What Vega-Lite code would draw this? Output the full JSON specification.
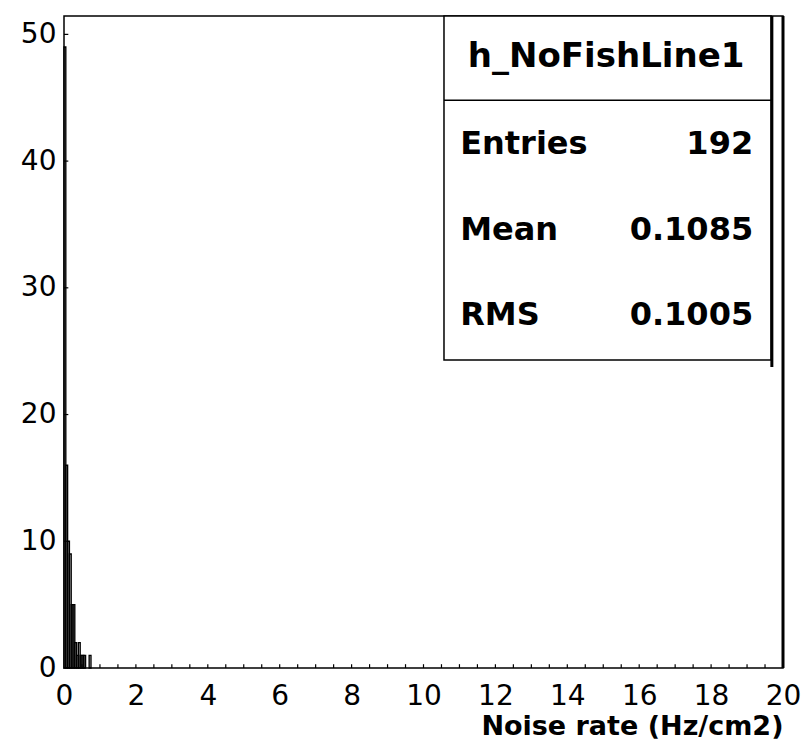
{
  "$schema": "https://vega.github.io/schema/vega-lite/v6.json",
  "width": 719,
  "height": 652,
  "autosize": {"type": "none"},
  "padding": {"left": 64, "top": 16, "right": 22, "bottom": 71},
  "background": "white",
  "config": {
    "view": {"stroke": "black", "strokeWidth": 1.5},
    "axis": {"grid": false, "domain": false, "ticks": false, "labelColor": "black", "labelFont": "DejaVu Sans", "labelFontSize": 28, "labelOverlap": false, "labelFlush": false, "labelBound": false, "titleColor": "black"}
  },
  "layer": [
    {
      "data": {"values": [
        {"lo": 0.00, "hi": 0.05, "count": 49},
        {"lo": 0.05, "hi": 0.10, "count": 16},
        {"lo": 0.10, "hi": 0.15, "count": 10},
        {"lo": 0.15, "hi": 0.20, "count": 9},
        {"lo": 0.20, "hi": 0.25, "count": 5},
        {"lo": 0.25, "hi": 0.30, "count": 5},
        {"lo": 0.30, "hi": 0.35, "count": 2},
        {"lo": 0.35, "hi": 0.40, "count": 1},
        {"lo": 0.40, "hi": 0.45, "count": 2},
        {"lo": 0.45, "hi": 0.50, "count": 1},
        {"lo": 0.50, "hi": 0.55, "count": 1},
        {"lo": 0.55, "hi": 0.60, "count": 1},
        {"lo": 0.70, "hi": 0.75, "count": 1}
      ]},
      "mark": {"type": "rect", "fill": "white", "fillOpacity": 0, "stroke": "black", "strokeWidth": 1.4},
      "encoding": {
        "x": {
          "field": "lo", "type": "quantitative",
          "scale": {"domain": [0, 20], "nice": false, "zero": false},
          "axis": {
            "values": [0, 2, 4, 6, 8, 10, 12, 14, 16, 18, 20],
            "format": "d",
            "labelPadding": 14,
            "title": "Noise rate (Hz/cm2)",
            "titleFont": "DejaVu Sans",
            "titleFontWeight": "bold",
            "titleFontSize": 27,
            "titleAnchor": "end",
            "titleAlign": "right",
            "titleBaseline": "alphabetic",
            "titleX": 719,
            "titleY": 66
          }
        },
        "x2": {"field": "hi"},
        "y": {
          "field": "count", "type": "quantitative",
          "scale": {"domain": [0, 51.45], "nice": false},
          "axis": {
            "values": [0, 10, 20, 30, 40, 50],
            "labelPadding": 8,
            "labelBaseline": "middle",
            "title": null
          }
        },
        "y2": {"datum": 0}
      }
    },
    {
      "data": {"values": [
        {"tick": 0.5}, {"tick": 1}, {"tick": 1.5}, {"tick": 2}, {"tick": 2.5}, {"tick": 3}, {"tick": 3.5}, {"tick": 4}, {"tick": 4.5}, {"tick": 5},
        {"tick": 5.5}, {"tick": 6}, {"tick": 6.5}, {"tick": 7}, {"tick": 7.5}, {"tick": 8}, {"tick": 8.5}, {"tick": 9}, {"tick": 9.5}, {"tick": 10},
        {"tick": 10.5}, {"tick": 11}, {"tick": 11.5}, {"tick": 12}, {"tick": 12.5}, {"tick": 13}, {"tick": 13.5}, {"tick": 14}, {"tick": 14.5}, {"tick": 15},
        {"tick": 15.5}, {"tick": 16}, {"tick": 16.5}, {"tick": 17}, {"tick": 17.5}, {"tick": 18}, {"tick": 18.5}, {"tick": 19}, {"tick": 19.5}
      ]},
      "mark": {"type": "rule", "color": "black", "strokeWidth": 1.2},
      "encoding": {
        "x": {"field": "tick", "type": "quantitative"},
        "y": {"datum": 0},
        "y2": {"datum": 0.3}
      }
    },
    {
      "data": {"values": [{"tick": 10}, {"tick": 20}, {"tick": 30}, {"tick": 40}, {"tick": 50}]},
      "mark": {"type": "rule", "color": "black", "strokeWidth": 1.2},
      "encoding": {
        "y": {"field": "tick", "type": "quantitative"},
        "x": {"datum": 0},
        "x2": {"datum": 0.12}
      }
    },
    {
      "data": {"values": [{}]},
      "mark": {"type": "rule", "color": "black", "strokeWidth": 3},
      "encoding": {"x": {"datum": 20}}
    },
    {
      "data": {"values": [{}]},
      "mark": {"type": "rect", "fill": "white", "stroke": "black", "strokeWidth": 1.5},
      "encoding": {
        "x": {"datum": 10.57}, "x2": {"datum": 19.67},
        "y": {"datum": 24.3}, "y2": {"datum": 51.45}
      }
    },
    {
      "data": {"values": [{}]},
      "mark": {"type": "rule", "color": "black", "strokeWidth": 3},
      "encoding": {
        "x": {"datum": 19.69},
        "y": {"datum": 23.75}, "y2": {"datum": 51.45}
      }
    },
    {
      "data": {"values": [{}]},
      "mark": {"type": "rule", "color": "black", "strokeWidth": 1.5},
      "encoding": {
        "x": {"datum": 10.57}, "x2": {"datum": 19.67},
        "y": {"datum": 44.8}
      }
    },
    {
      "data": {"values": [{}]},
      "mark": {"type": "text", "font": "DejaVu Sans", "fontWeight": "bold", "fontSize": 34, "align": "center", "baseline": "alphabetic", "color": "black"},
      "encoding": {"x": {"datum": 15.08}, "y": {"datum": 47.45}, "text": {"value": "h_NoFishLine1"}}
    },
    {
      "data": {"values": [{}]},
      "mark": {"type": "text", "font": "DejaVu Sans", "fontWeight": "bold", "fontSize": 32, "align": "left", "baseline": "alphabetic", "color": "black"},
      "encoding": {"x": {"datum": 11.02}, "y": {"datum": 40.57}, "text": {"value": "Entries"}}
    },
    {
      "data": {"values": [{}]},
      "mark": {"type": "text", "font": "DejaVu Sans", "fontWeight": "bold", "fontSize": 32, "align": "right", "baseline": "alphabetic", "color": "black"},
      "encoding": {"x": {"datum": 19.17}, "y": {"datum": 40.57}, "text": {"value": "192"}}
    },
    {
      "data": {"values": [{}]},
      "mark": {"type": "text", "font": "DejaVu Sans", "fontWeight": "bold", "fontSize": 32, "align": "left", "baseline": "alphabetic", "color": "black"},
      "encoding": {"x": {"datum": 11.02}, "y": {"datum": 33.78}, "text": {"value": "Mean"}}
    },
    {
      "data": {"values": [{}]},
      "mark": {"type": "text", "font": "DejaVu Sans", "fontWeight": "bold", "fontSize": 32, "align": "right", "baseline": "alphabetic", "color": "black"},
      "encoding": {"x": {"datum": 19.17}, "y": {"datum": 33.78}, "text": {"value": "0.1085"}}
    },
    {
      "data": {"values": [{}]},
      "mark": {"type": "text", "font": "DejaVu Sans", "fontWeight": "bold", "fontSize": 32, "align": "left", "baseline": "alphabetic", "color": "black"},
      "encoding": {"x": {"datum": 11.02}, "y": {"datum": 27.07}, "text": {"value": "RMS"}}
    },
    {
      "data": {"values": [{}]},
      "mark": {"type": "text", "font": "DejaVu Sans", "fontWeight": "bold", "fontSize": 32, "align": "right", "baseline": "alphabetic", "color": "black"},
      "encoding": {"x": {"datum": 19.17}, "y": {"datum": 27.07}, "text": {"value": "0.1005"}}
    }
  ]
}
